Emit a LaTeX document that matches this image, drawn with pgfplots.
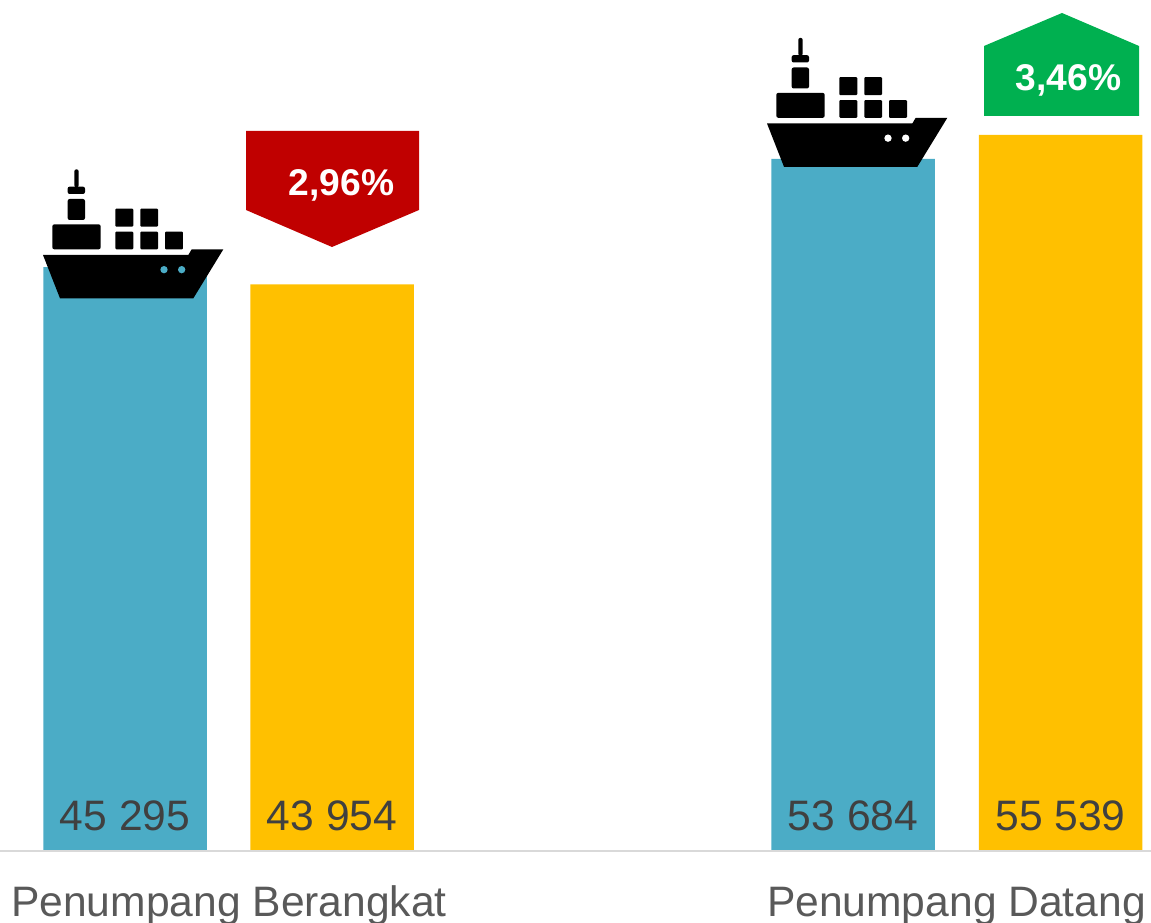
\documentclass[border=0pt]{standalone}
\usepackage{fontspec}
\setmainfont{Liberation Sans}
\usepackage{pgfplots}
\pgfplotsset{compat=1.18}
\definecolor{cblue}{HTML}{4BACC6}
\definecolor{cgold}{HTML}{FFC000}
\definecolor{cred}{HTML}{C00000}
\definecolor{cgreen}{HTML}{00B050}
\definecolor{clab}{HTML}{404040}
\definecolor{caxis}{HTML}{595959}
\definecolor{cline}{HTML}{D9D9D9}
% ship icon, drawn in the crop coordinates of the first ship; #1,#2 = offset, #3 = porthole colour
\newcommand{\ship}[3]{%
\begin{scope}[shift={(#1,#2)}]
\begin{scope}[shift={(30,160)},scale=1/3]
\fill[black] (39,285)--(475,285)--(485,268)--(580,268)--(490,415)--(90,415)--cycle;
\fill[black,rounded corners=2pt] (133,28) rectangle (146,82);
\fill[black,rounded corners=2pt] (113,80) rectangle (165,102);
\fill[black,rounded corners=2pt] (113,117) rectangle (165,180);
\fill[black,rounded corners=2pt] (67,193) rectangle (212,268);
\fill[black,rounded corners=1pt] (256,146) rectangle (310,200);
\fill[black,rounded corners=1pt] (331,146) rectangle (384,200);
\fill[black,rounded corners=1pt] (256,215) rectangle (310,268);
\fill[black,rounded corners=1pt] (331,215) rectangle (384,268);
\fill[black,rounded corners=1pt] (405,215) rectangle (459,268);
\fill[#3] (402,329) circle (11);
\fill[#3] (455,329) circle (11);
\end{scope}
\end{scope}}
\begin{document}
\begin{tikzpicture}
\begin{axis}[
  at={(0pt,0pt)},anchor=origin,
  scale only axis,width=1151pt,height=851pt,
  xmin=0,xmax=1151,ymin=0,ymax=66005,
  axis x line*=bottom,axis y line=none,
  axis on top,
  axis line style={cline,line width=2.4pt},
  xtick={229,956.5},
  xticklabels={Penumpang Berangkat,Penumpang Datang},
  major tick length=0pt,
  xticklabel style={anchor=base,yshift=-65pt,text=caxis,font=\fontsize{42.6}{50}\selectfont},
  clip=false,
  ybar,bar width=163.5pt,bar shift=0pt,
]
\addplot[fill=cblue,draw=none] coordinates {(125,45295) (853,53684)};
\addplot[fill=cgold,draw=none] coordinates {(332.2,43954) (1060.5,55539)};
\addplot[draw=none,fill=none,forget plot,
  nodes near coords,point meta=explicit symbolic,
  every node near coord/.append style={anchor=base,yshift=20pt,text=clab,inner sep=0pt,font=\fontsize{42.6}{50}\selectfont}]
  coordinates {(125,0)[45 295] (332,0)[43 954] (853,0)[53 684] (1060.5,0)[55 539]};
\end{axis}
\begin{scope}[x=1pt,y=-1pt,yshift=851pt]
\ship{0}{0}{cblue}
\ship{724}{-131.5}{white}
\fill[cred] (246,131)--(419,131)--(419,210)--(332,247)--(246,210)--cycle;
\node[white,font=\fontsize{37.2}{44}\bfseries,inner sep=0pt] at (341.5,185) {2,96\%};
\fill[cgreen] (984,46)--(1062,13)--(1139,46)--(1139,116)--(984,116)--cycle;
\node[white,font=\fontsize{37.2}{44}\bfseries,inner sep=0pt] at (1068.5,80.5) {3,46\%};
\end{scope}
\pgfresetboundingbox
\path[use as bounding box] (0pt,-72pt) rectangle (1151pt,851pt);
\end{tikzpicture}
\end{document}
